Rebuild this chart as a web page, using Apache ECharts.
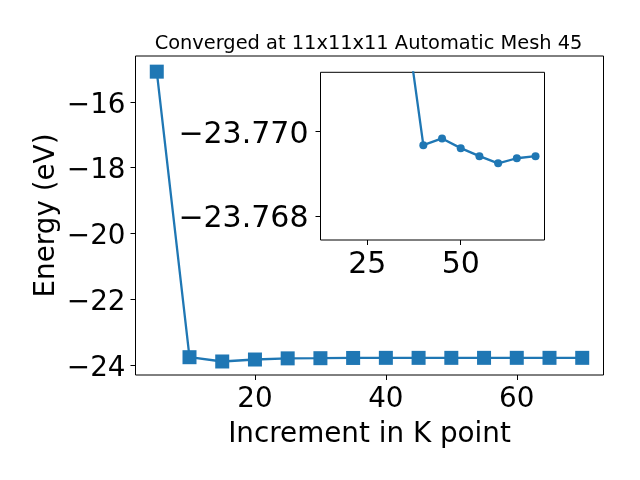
<!DOCTYPE html>
<html>
<head>
<meta charset="utf-8">
<script src="https://cdn.jsdelivr.net/npm/echarts@6/dist/echarts.min.js"></script>
<style>html,body{margin:0;padding:0;background:#fff}#c{width:640px;height:480px}</style>
</head>
<body>
<div id="c"></div>
<script>
const kpoints = [5, 10, 15, 20, 25, 30, 35, 40, 45, 50, 55, 60, 65, 70];
const energy = [-15.085, -23.75, -23.88, -23.82, -23.785, -23.78, -23.7729, -23.76968, -23.76984, -23.76961, -23.76942, -23.76925, -23.76937, -23.76942];
const mainXTicks = [20, 40, 60];
const mainYTicks = [-24, -22, -20, -18, -16];
const insetXTicks = [25, 50];
const insetYTicks = [-23.770, -23.768];
const titleText = 'Converged at 11x11x11 Automatic Mesh 45';
const xName = 'Increment in K point';
const yName = 'Energy (eV)';

const FONT = 'DejaVu Sans';
const C = '#1f77b4';
const minus = (v, d) => (v < 0 ? '\u2212' : '') + Math.abs(v).toFixed(d);
const pts = kpoints.map((k, i) => [k, energy[i]]);

const tickStyle = (vals) => ({show: true, inside: false, length: 5, customValues: vals, lineStyle: {color: '#000', width: 1}});
const yRich = {a: {fontSize: 27.8, color: '#000', fontFamily: FONT, padding: [7, 0, 0, 0]}};
const yRichInset = {a: {fontSize: 30, color: '#000', fontFamily: FONT, padding: [7, 0, 0, 0]}};

const chart = echarts.init(document.getElementById('c'), null, {renderer: 'canvas'});
chart.setOption({
  animation: false,
  backgroundColor: '#fff',
  textStyle: {fontFamily: FONT},
  title: {
    text: titleText, left: 363.5, top: 29, textAlign: 'center',
    textStyle: {fontFamily: FONT, fontSize: 19.4, fontWeight: 'normal', color: '#000'}
  },
  grid: [
    {left: 135.5, top: 56, width: 468, height: 319, show: true, borderColor: '#000', borderWidth: 1, backgroundColor: 'transparent'},
    {left: 320.5, top: 72.3, width: 224, height: 167.7, show: true, borderColor: '#000', borderWidth: 1, backgroundColor: '#fff', z: 5}
  ],
  xAxis: [
    {type: 'value', gridIndex: 0, min: 1.75, max: 73.25,
     axisLine: {show: false}, splitLine: {show: false},
     axisTick: tickStyle(mainXTicks),
     axisLabel: {customValues: mainXTicks, margin: 11, fontSize: 27.8, color: '#000', fontFamily: FONT, formatter: v => minus(v, 0)},
     name: xName, nameLocation: 'middle', nameGap: 46, nameMoveOverlap: false,
     nameTextStyle: {fontSize: 27.8, color: '#000', fontFamily: FONT}},
    {type: 'value', gridIndex: 1, min: 12.5, max: 72.4,
     axisLine: {show: false}, splitLine: {show: false},
     axisTick: tickStyle(insetXTicks),
     axisLabel: {customValues: insetXTicks, margin: 10, fontSize: 30, color: '#000', fontFamily: FONT, formatter: v => minus(v, 0)}}
  ],
  yAxis: [
    {type: 'value', gridIndex: 0, min: -24.29, max: -14.61,
     axisLine: {show: false}, splitLine: {show: false},
     axisTick: tickStyle(mainYTicks),
     axisLabel: {customValues: mainYTicks, margin: 10, rich: yRich, formatter: v => '{a|' + minus(v, 0) + '}'},
     name: yName, nameLocation: 'middle', nameGap: 75, nameMoveOverlap: false,
     nameTextStyle: {fontSize: 27.8, color: '#000', fontFamily: FONT}},
    {type: 'value', gridIndex: 1, inverse: true, min: -23.77141, max: -23.76743,
     axisLine: {show: false}, splitLine: {show: false},
     axisTick: tickStyle(insetYTicks),
     axisLabel: {customValues: insetYTicks, margin: 12, rich: yRichInset, formatter: v => '{a|' + minus(v, 3) + '}'}}
  ],
  series: [
    {type: 'line', xAxisIndex: 0, yAxisIndex: 0, data: pts, clip: true,
     symbol: 'rect', symbolSize: 14, showAllSymbol: true,
     lineStyle: {color: C, width: 2.3}, itemStyle: {color: C, borderColor: C, borderWidth: 0}, z: 2},
    {type: 'line', xAxisIndex: 1, yAxisIndex: 1, data: pts, clip: true,
     symbol: 'circle', symbolSize: 8, showAllSymbol: true,
     lineStyle: {color: C, width: 2.3}, itemStyle: {color: C, borderWidth: 0}, z: 10}
  ]
});
</script>
</body>
</html>
